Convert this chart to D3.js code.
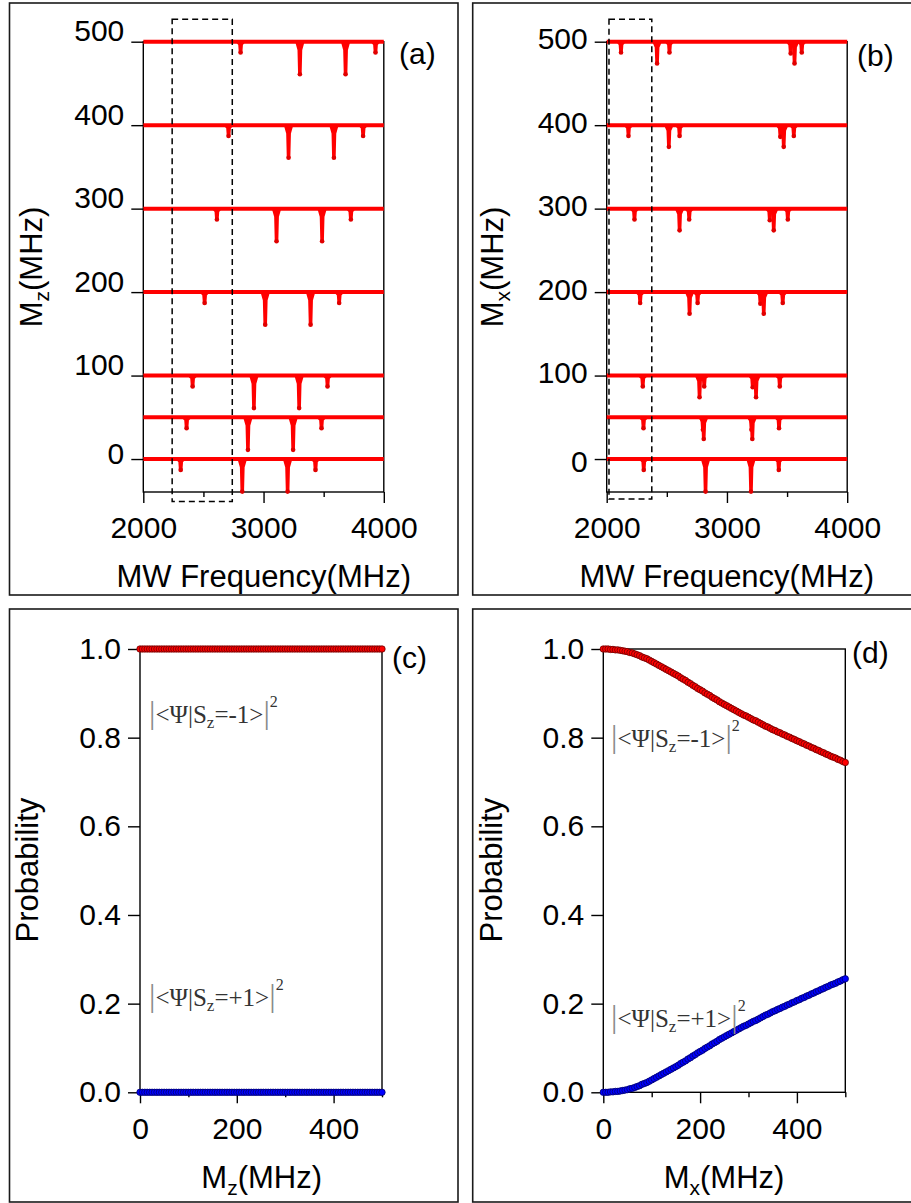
<!DOCTYPE html>
<html>
<head>
<meta charset="utf-8">
<script src="https://cdn.jsdelivr.net/npm/d3@7"></script>
<style>
body { margin: 0; background: #fff; }
svg { display: block; }
text { font-family: "Liberation Sans", Arial, sans-serif; }
</style>
</head>
<body>
<div id="chart"></div>
<script>
// ---- data ----
// spectra: vertical offset of each trace (MHz) and its dips [MW frequency, depth]
var rowOffsets = [0, 50, 100, 200, 300, 400, 500];
var dipsMz = [
  [[2311, 13], [2823, 39], [3200, 39], [3432, 13]],
  [[2360, 13], [2870, 39], [3246, 39], [3482, 13]],
  [[2410, 13], [2920, 39], [3296, 39], [3532, 13]],
  [[2510, 13], [3014, 39], [3391, 39], [3629, 13]],
  [[2612, 13], [3108, 39], [3487, 39], [3726, 13]],
  [[2709, 13], [3208, 39], [3585, 39], [3828, 13]],
  [[2809, 13], [3302, 39], [3682, 39], [3931, 13]]
];
var dipsMx = [
  [[2308, 13], [2822, 39], [3200, 39], [3431, 13]],
  [[2306, 13], [2800, 15], [2807, 26], [3204, 15], [3211, 26], [3433, 13]],
  [[2300, 13], [2772, 26], [2811, 13], [3214, 14], [3242, 26], [3439, 13]],
  [[2278, 13], [2689, 26], [2756, 13], [3278, 14], [3306, 26], [3464, 13]],
  [[2231, 13], [2606, 26], [2686, 13], [3356, 14], [3389, 26], [3506, 13]],
  [[2181, 13], [2517, 26], [2606, 13], [3444, 14], [3472, 26], [3556, 13]],
  [[2119, 13], [2419, 26], [2522, 13], [3530, 14], [3562, 26], [3622, 13]]
];
var freqTicks = [2000, 3000, 4000];
var freqMinorTicks = [2500, 3500];
var offsetTicks = [0, 100, 200, 300, 400, 500];
var boxMz = [2240, 2740, -51, 527];   // dashed region [f0, f1, y0, y1]
var boxMx = [2019, 2375, -48, 527];

// probabilities vs field
var fieldValues = [
  0, 5, 10, 15, 20, 25, 30, 35, 40, 45, 50,
  55, 60, 65, 70, 75, 80, 85, 90, 95, 100,
  105, 110, 115, 120, 125, 130, 135, 140, 145, 150,
  155, 160, 165, 170, 175, 180, 185, 190, 195, 200,
  205, 210, 215, 220, 225, 230, 235, 240, 245, 250,
  255, 260, 265, 270, 275, 280, 285, 290, 295, 300,
  305, 310, 315, 320, 325, 330, 335, 340, 345, 350,
  355, 360, 365, 370, 375, 380, 385, 390, 395, 400,
  405, 410, 415, 420, 425, 430, 435, 440, 445, 450,
  455, 460, 465, 470, 475, 480, 485, 490, 495, 500
];
var probMinusMz = [
  1, 1, 1, 1, 1, 1, 1, 1, 1, 1, 1,
  1, 1, 1, 1, 1, 1, 1, 1, 1, 1,
  1, 1, 1, 1, 1, 1, 1, 1, 1, 1,
  1, 1, 1, 1, 1, 1, 1, 1, 1, 1,
  1, 1, 1, 1, 1, 1, 1, 1, 1, 1,
  1, 1, 1, 1, 1, 1, 1, 1, 1, 1,
  1, 1, 1, 1, 1, 1, 1, 1, 1, 1,
  1, 1, 1, 1, 1, 1, 1, 1, 1, 1,
  1, 1, 1, 1, 1, 1, 1, 1, 1, 1,
  1, 1, 1, 1, 1, 1, 1, 1, 1, 1
];
var probPlusMz = [
  0, 0, 0, 0, 0, 0, 0, 0, 0, 0, 0,
  0, 0, 0, 0, 0, 0, 0, 0, 0, 0,
  0, 0, 0, 0, 0, 0, 0, 0, 0, 0,
  0, 0, 0, 0, 0, 0, 0, 0, 0, 0,
  0, 0, 0, 0, 0, 0, 0, 0, 0, 0,
  0, 0, 0, 0, 0, 0, 0, 0, 0, 0,
  0, 0, 0, 0, 0, 0, 0, 0, 0, 0,
  0, 0, 0, 0, 0, 0, 0, 0, 0, 0,
  0, 0, 0, 0, 0, 0, 0, 0, 0, 0,
  0, 0, 0, 0, 0, 0, 0, 0, 0, 0
];
var probMinusMx = [
  1.000, 1.000, 1.000, 0.999, 0.999, 0.998, 0.998, 0.997, 0.996, 0.995, 0.994,
  0.992, 0.991, 0.989, 0.987, 0.985, 0.982, 0.980, 0.978, 0.975, 0.972,
  0.969, 0.966, 0.963, 0.960, 0.957, 0.954, 0.951, 0.948, 0.945, 0.942,
  0.939, 0.935, 0.932, 0.929, 0.925, 0.922, 0.918, 0.915, 0.911, 0.908,
  0.905, 0.901, 0.898, 0.895, 0.891, 0.888, 0.885, 0.881, 0.878, 0.875,
  0.872, 0.869, 0.866, 0.863, 0.860, 0.857, 0.854, 0.851, 0.849, 0.846,
  0.843, 0.840, 0.838, 0.835, 0.832, 0.829, 0.826, 0.824, 0.821, 0.818,
  0.816, 0.813, 0.811, 0.808, 0.806, 0.803, 0.801, 0.798, 0.796, 0.793,
  0.791, 0.788, 0.786, 0.783, 0.781, 0.778, 0.776, 0.773, 0.771, 0.768,
  0.766, 0.763, 0.761, 0.758, 0.756, 0.754, 0.751, 0.749, 0.746, 0.744
];
var probPlusMx = [
  0.000, 0.000, 0.000, 0.001, 0.001, 0.002, 0.002, 0.003, 0.004, 0.005, 0.006,
  0.008, 0.009, 0.011, 0.013, 0.015, 0.018, 0.020, 0.022, 0.025, 0.028,
  0.031, 0.034, 0.037, 0.040, 0.043, 0.046, 0.049, 0.052, 0.055, 0.058,
  0.061, 0.065, 0.068, 0.071, 0.075, 0.078, 0.082, 0.085, 0.089, 0.092,
  0.095, 0.099, 0.102, 0.105, 0.109, 0.112, 0.115, 0.119, 0.122, 0.125,
  0.128, 0.131, 0.134, 0.137, 0.140, 0.143, 0.146, 0.149, 0.151, 0.154,
  0.157, 0.160, 0.162, 0.165, 0.168, 0.171, 0.174, 0.176, 0.179, 0.182,
  0.184, 0.187, 0.189, 0.192, 0.194, 0.197, 0.199, 0.202, 0.204, 0.207,
  0.209, 0.212, 0.214, 0.217, 0.219, 0.222, 0.224, 0.227, 0.229, 0.232,
  0.234, 0.237, 0.239, 0.242, 0.244, 0.246, 0.249, 0.251, 0.254, 0.256
];
var probTicks = [0, 0.2, 0.4, 0.6, 0.8, 1.0];
var fieldTicks = [0, 200, 400];
var fieldMinorTicks = [100, 300, 500];

// ---- drawing ----
var svg = d3.select("#chart").append("svg")
  .attr("width", 911)
  .attr("height", 1203);

function panelFrame(x0, y0, x1, y1) {
  svg.append("rect")
    .attr("x", x0).attr("y", y0)
    .attr("width", x1 - x0).attr("height", y1 - y0)
    .attr("fill", "none")
    .attr("stroke", "#1a1a1a")
    .attr("stroke-width", 1.6);
}

function plotBox(g, x, y) {
  g.append("rect")
    .attr("x", x.range()[0]).attr("y", y.range()[1])
    .attr("width", x.range()[1] - x.range()[0])
    .attr("height", y.range()[0] - y.range()[1])
    .attr("fill", "none")
    .attr("stroke", "#000")
    .attr("stroke-width", 1.4);
}

function styleAxis(sel) {
  sel.select(".domain").remove();
  sel.selectAll("line").attr("stroke", "#000").attr("stroke-width", 1.4);
  sel.selectAll("text").attr("font-size", 30).attr("fill", "#000")
    .style("font-family", '"Liberation Sans", Arial, sans-serif');
}

function bottomAxis(g, x, y, major, minor) {
  g.append("g")
    .attr("transform", "translate(0," + y.range()[0] + ")")
    .call(d3.axisBottom(x).tickValues(major).tickSize(11).tickPadding(14).tickFormat(d3.format("d")))
    .call(styleAxis);
  g.append("g")
    .attr("transform", "translate(0," + y.range()[0] + ")")
    .call(d3.axisBottom(x).tickValues(minor).tickSize(5).tickFormat(""))
    .call(styleAxis);
}

function label(text, x, y) {
  svg.append("text").attr("x", x).attr("y", y)
    .attr("font-size", 30).text(text);
}

function subTitle(x, y, main, sub, rest, rotate) {
  var t = svg.append("text")
    .attr("text-anchor", "middle")
    .attr("font-size", 31)
    .attr("transform", "translate(" + x + "," + y + ")" + (rotate ? " rotate(-90)" : ""));
  t.append("tspan").text(main);
  if (sub) {
    t.append("tspan").attr("font-size", 21).attr("dy", 7).text(sub);
    t.append("tspan").attr("dy", -7).text(rest);
  }
}

function spectrumPanel(left, dips, box, tickDy) {
  var x = d3.scaleLinear().domain([2000, 4000]).range([left, left + 240.5]);
  var y = d3.scaleLinear().domain([-39.5, 500]).range([492, 41.7]);
  var g = svg.append("g");
  var line = d3.line().x(function(d) { return x(d[0]); }).y(function(d) { return y(d[1]); });

  plotBox(g, x, y);

  rowOffsets.forEach(function(off, i) {
    g.append("path")
      .attr("d", line([[2000, off], [4000, off]]))
      .attr("fill", "none")
      .attr("stroke", "#ff0000")
      .attr("stroke-width", 4);
    dips[i].forEach(function(dp) {
      var f = dp[0], dep = dp[1];
      g.append("path")
        .attr("d", line([[f - 28, off], [f - 9, off - dep * 0.25], [f - 4, off - dep],
                         [f + 4, off - dep], [f + 9, off - dep * 0.25], [f + 28, off]]))
        .attr("fill", "#ff0000")
        .attr("stroke", "#ff0000")
        .attr("stroke-width", 2.6)
        .attr("stroke-linejoin", "round");
      g.append("circle")
        .attr("cx", x(f)).attr("cy", y(off - dep))
        .attr("r", 2.3).attr("fill", "#e00000");
    });
  });

  // dashed region
  g.append("rect")
    .attr("x", x(box[0])).attr("y", y(box[3]))
    .attr("width", x(box[1]) - x(box[0]))
    .attr("height", y(box[2]) - y(box[3]))
    .attr("fill", "none")
    .attr("stroke", "#000")
    .attr("stroke-width", 1.5)
    .attr("stroke-dasharray", "6,4");

  g.append("g")
    .attr("transform", "translate(" + left + ",0)")
    .call(d3.axisLeft(y).tickValues(offsetTicks).tickSize(12).tickPadding(7))
    .call(styleAxis)
    .selectAll("text").attr("dy", tickDy);

  bottomAxis(g, x, y, freqTicks, freqMinorTicks);
}

function probabilityPanel(left, minus, plus) {
  var x = d3.scaleLinear().domain([0, 500]).range([left, left + 242]);
  var y = d3.scaleLinear().domain([0, 1]).range([1092.3, 649]);
  var g = svg.append("g");

  plotBox(g, x, y);

  g.append("g")
    .attr("transform", "translate(" + left + ",0)")
    .call(d3.axisLeft(y).tickValues(probTicks).tickSize(12).tickPadding(7).tickFormat(d3.format(".1f")))
    .call(styleAxis);

  bottomAxis(g, x, y, fieldTicks, fieldMinorTicks);

  g.selectAll(".minus").data(fieldValues).enter()
    .append("circle")
    .attr("cx", function(d) { return x(d); })
    .attr("cy", function(d, i) { return y(minus[i]); })
    .attr("r", 3.2)
    .attr("fill", "#ff0000")
    .attr("stroke", "#6a0000")
    .attr("stroke-width", 0.8);

  g.selectAll(".plus").data(fieldValues).enter()
    .append("circle")
    .attr("cx", function(d) { return x(d); })
    .attr("cy", function(d, i) { return y(plus[i]); })
    .attr("r", 3.2)
    .attr("fill", "#0000ff")
    .attr("stroke", "#00006a")
    .attr("stroke-width", 0.8);
}

function braket(x, y, sign) {
  var t = svg.append("text")
    .attr("x", x).attr("y", y)
    .attr("fill", "#333")
    .style("font-family", '"Liberation Serif", "Times New Roman", serif');
  t.append("tspan").attr("font-size", 32).attr("fill", "#8a8a8a").text("|");
  t.append("tspan").attr("font-size", 25).text("<\u03A8|S");
  t.append("tspan").attr("font-size", 17).attr("dy", 5).text("z");
  t.append("tspan").attr("font-size", 25).attr("dy", -5).text("=" + sign + "1>");
  t.append("tspan").attr("font-size", 32).attr("fill", "#8a8a8a").text("|");
  t.append("tspan").attr("font-size", 16).attr("dy", -16).text("2");
}

panelFrame(9.5, 3, 458, 595);
panelFrame(472.7, 3, 930, 595);
panelFrame(9.5, 609, 458, 1202);
panelFrame(472.7, 609, 930, 1202);

spectrumPanel(143.3, dipsMz, boxMz, function(d) { return d === 0 ? 4 : -1; });
spectrumPanel(606.7, dipsMx, boxMx, function(d) { return d === 0 ? 12 : 7; });
probabilityPanel(140, probMinusMz, probPlusMz);
probabilityPanel(603.3, probMinusMx, probPlusMx);

// axis titles
subTitle(41.7, 267, "M", "z", "(MHz)", true);
subTitle(503.3, 267, "M", "x", "(MHz)", true);
subTitle(263.7, 587, "MW Frequency(MHz)", null, null, false);
subTitle(726.7, 587, "MW Frequency(MHz)", null, null, false);
subTitle(38, 870, "Probability", null, null, true);
subTitle(501.5, 870, "Probability", null, null, true);
subTitle(261.7, 1188, "M", "z", "(MHz)", false);
subTitle(724, 1188, "M", "x", "(MHz)", false);

// panel labels
label("(a)", 399, 64);
label("(b)", 857, 66);
label("(c)", 392, 668);
label("(d)", 852, 663);

// state annotations
braket(149, 722.7, "-");
braket(149, 1006, "+");
braket(611, 746.7, "-");
braket(611, 1026.7, "+");
</script>
</body>
</html>
